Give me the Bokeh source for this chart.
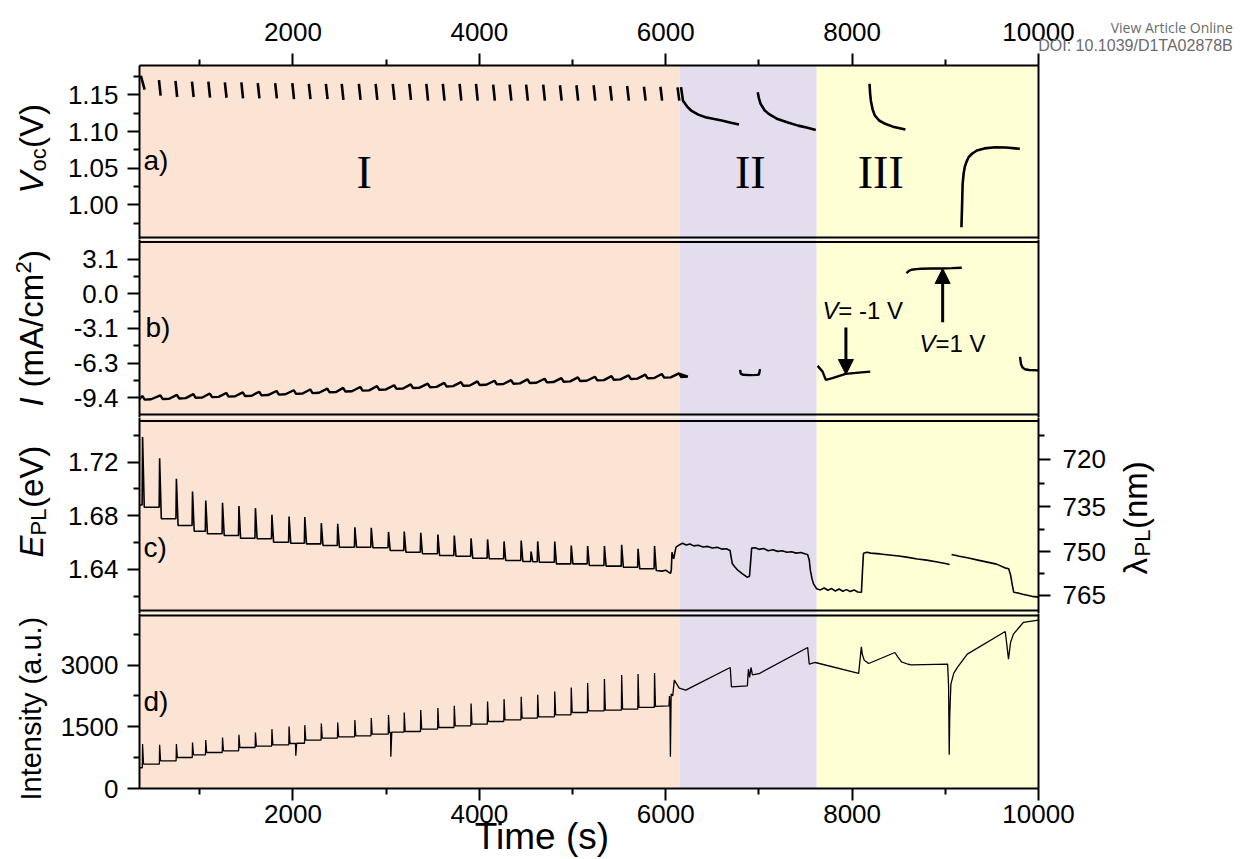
import math
from bokeh.plotting import figure
from bokeh.layouts import column
from bokeh.models import (Range1d, LinearAxis, FixedTicker, CustomJSTickFormatter,
                          BoxAnnotation, Span, Label, Arrow, NormalHead)
from bokeh.embed import file_html
from bokeh.resources import INLINE

NAN = float("nan")

# ---------------- data ----------------
X_START, X_END = 353, 10000
X_MAJOR = [2000, 4000, 6000, 8000, 10000]
X_MINOR = [1000, 3000, 5000, 7000, 9000]

REGION_EDGES = [353, 6150, 7620, 10000]
REGION_COLORS = ["#FCE4D4", "#E4DDEE", "#FFFFD6"]
REGION_NAMES = ["I", "II", "III"]
REGION_NAME_T = [2763, 6908, 8307]

# a) Voc
VOC_T = [368, 562, 739, 916, 1092, 1269, 1446, 1622, 1809, 1993, 2170, 2353, 2523, 2707, 2887,
         3071, 3248, 3431, 3608, 3788, 3964, 4148, 4325, 4502, 4685, 4865, 5042, 5226, 5403,
         5586, 5766, 5943, 6127]
VOC_TOP = [1.176, 1.170, 1.169, 1.168, 1.168, 1.167, 1.167, 1.166, 1.166, 1.166,
           1.165, 1.165, 1.165, 1.165, 1.165, 1.165, 1.165, 1.165, 1.165, 1.165, 1.165,
           1.164, 1.164, 1.164, 1.164, 1.163, 1.163, 1.163, 1.162, 1.162, 1.161, 1.161, 1.160]
VOC_BOT = [1.157, 1.149, 1.147, 1.147, 1.146, 1.146, 1.145, 1.145, 1.145, 1.144,
           1.144, 1.144, 1.143, 1.143, 1.143, 1.143, 1.143,
           1.142, 1.142, 1.142, 1.142, 1.142, 1.142, 1.142, 1.142, 1.142, 1.142, 1.142,
           1.142, 1.142, 1.142, 1.142, 1.142]
VOC2A_T = [6164, 6185, 6230, 6272, 6350, 6427, 6520, 6600, 6700, 6786]
VOC2A_V = [1.1604, 1.142, 1.134, 1.1286, 1.123, 1.1195, 1.117, 1.115, 1.112, 1.1095]
VOC2B_T = [6987, 7000, 7018, 7060, 7105, 7200, 7302, 7420, 7522, 7610]
VOC2B_V = [1.1535, 1.145, 1.1377, 1.129, 1.124, 1.117, 1.1127, 1.108, 1.105, 1.102]
VOC3A_T = [8187, 8193, 8201, 8220, 8243, 8290, 8354, 8450, 8572]
VOC3A_V = [1.165, 1.152, 1.142, 1.130, 1.122, 1.115, 1.1105, 1.106, 1.1027]
VOC3B_T = [9173, 9180, 9186, 9196, 9208, 9228, 9250, 9290, 9339, 9420, 9537, 9650, 9800]
VOC3B_V = [0.9696, 1.000, 1.0287, 1.042, 1.0514, 1.059, 1.065, 1.070, 1.0741, 1.077,
           1.0786, 1.0783, 1.0764]
VOC_TICKS = [1.00, 1.05, 1.10, 1.15]
VOC_MINOR = [0.975, 1.025, 1.075, 1.125, 1.175]

# b) current
CUR_BASE = [-9.57, -9.52, -9.47, -9.41, -9.35, -9.30, -9.25, -9.19, -9.12, -9.05,
            -8.98, -8.91, -8.84, -8.76, -8.68, -8.60, -8.52, -8.45, -8.38, -8.32,
            -8.25, -8.19, -8.13, -8.07, -8.01, -7.95, -7.89, -7.83, -7.77, -7.70,
            -7.64, -7.58, -7.52]
CUR2_T = [6798, 6805, 6830, 6900, 6980, 7000, 7008, 7011]
CUR2_V = [-6.90, -7.25, -7.35, -7.38, -7.36, -7.32, -7.00, -6.84]
CUR_NEG_T = [7630, 7683, 7718, 7789, 7930, 8071, 8194]
CUR_NEG_V = [-6.54, -7.06, -7.81, -7.66, -7.27, -7.15, -7.06]
CUR_POS_T = [8583, 8610, 8636, 8690, 8742, 8850, 8954, 9070, 9177]
CUR_POS_V = [1.87, 2.08, 2.18, 2.24, 2.27, 2.29, 2.30, 2.33, 2.36]
CUR_END_T = [9802, 9812, 9830, 9855, 9900, 10000]
CUR_END_V = [-5.73, -6.39, -6.70, -6.85, -6.92, -6.95]
CUR_TICKS = [3.14, 0.0, -3.14, -6.28, -9.42]
CUR_MINOR = [1.57, -1.57, -4.71, -7.85]

# c) PL peak energy
E_T = [386, 569, 749, 922, 1064, 1244, 1420, 1597, 1774, 1958, 2127, 2304, 2480, 2664, 2840,
       3025, 3194, 3371, 3555, 3731, 3911, 4088, 4265, 4449, 4555, 4626, 4809, 4986, 5162,
       5342, 5527, 5703, 5880]
E_PEAK = [1.7386, 1.7229, 1.7076, 1.6981, 1.6914, 1.6897, 1.6872, 1.6857, 1.6807, 1.6795,
          1.6790, 1.6745, 1.6740, 1.6715, 1.6711, 1.6680, 1.6683, 1.6673, 1.6661, 1.6653,
          1.6633, 1.6624, 1.6609, 1.6616, 1.6534, 1.6609, 1.6609, 1.6579, 1.6574, 1.6574,
          1.6584, 1.6554, 1.6574]
E_BASE = [1.6864, 1.6778, 1.6728, 1.6685, 1.6666, 1.6653, 1.6633, 1.6629, 1.6603, 1.6596,
          1.6591, 1.6579, 1.6566, 1.6566, 1.6562, 1.6542, 1.6529, 1.6517, 1.6504, 1.6499,
          1.6484, 1.6480, 1.6467, 1.6460, 1.6458, 1.6454, 1.6442, 1.6442, 1.6430, 1.6425,
          1.6417, 1.6405, 1.6393]
E_START_V = 1.688
E_TAIL_T = [5960, 6000, 6030, 6052, 6060, 6067, 6085, 6110]
E_TAIL_V = [1.6388, 1.6395, 1.6380, 1.6372, 1.6400, 1.6529, 1.6480, 1.6566]
E_R2_T = [6150, 6180, 6220, 6260, 6300, 6350, 6400, 6450, 6500, 6550,
          6600, 6650, 6690, 6700, 6715, 6740, 6776, 6820, 6873, 6899,
          6910, 6922, 6960, 7000, 7050, 7100, 7150, 7200, 7250, 7300,
          7350, 7400, 7450, 7500, 7522, 7540, 7552, 7570, 7586, 7620]
E_R2_V = [1.6585, 1.6595, 1.6582, 1.6590, 1.6576, 1.6580, 1.6568, 1.6572, 1.6560, 1.6565,
          1.6552, 1.6555, 1.6542, 1.6500, 1.6442, 1.6420, 1.6393, 1.6370, 1.6343, 1.6350,
          1.6450, 1.6559, 1.6562, 1.6550, 1.6556, 1.6540, 1.6547, 1.6535, 1.6540, 1.6528,
          1.6532, 1.6522, 1.6526, 1.6515, 1.6512, 1.6470, 1.6393, 1.6330, 1.6293, 1.6256]
E_R3_T = [7620, 7660, 7700, 7740, 7780, 7820, 7860, 7900, 7940, 7980,
          8020, 8060, 8100, 8112, 8122, 8160, 8200, 8300, 8400, 8500,
          8600, 8700, 8800, 8900, 9000, 9046, NAN, 9067, 9150, 9250,
          9350, 9450, 9550, 9650, 9680, 9700, 9720, 9734, 9780, 9830,
          9880, 9930, 10000]
E_R3_V = [1.6256, 1.6248, 1.6262, 1.6245, 1.6258, 1.6240, 1.6255, 1.6238, 1.6250, 1.6236,
          1.6248, 1.6232, 1.6231, 1.6400, 1.6521, 1.6528, 1.6522, 1.6516, 1.6508, 1.6500,
          1.6490, 1.6478, 1.6470, 1.6458, 1.6445, 1.6437, NAN, 1.6512, 1.6498, 1.6485,
          1.6470, 1.6455, 1.6440, 1.6410, 1.6405, 1.6360, 1.6280, 1.6231, 1.6225, 1.6215,
          1.6208, 1.6200, 1.6194]
E_TICKS = [1.64, 1.68, 1.72]
E_MINOR = [1.62, 1.66, 1.70, 1.74]
HC = 1239.84
LAMBDA_TICKS = [720, 735, 750, 765]
LAMBDA_MINOR = [712.5, 727.5, 742.5, 757.5]

# d) PL intensity
INT_T = [386, 569, 749, 922, 1064, 1244, 1420, 1597, 1774, 1958,
         2030, 2127, 2304, 2480, 2664, 2840, 3025, 3050, 3194, 3371,
         3555, 3731, 3911, 4088, 4265, 4449, 4626, 4809, 4986, 5162,
         5342, 5527, 5703, 5880]
INT_PEAK = [1079, 1062, 1079, 1118, 1176, 1240, 1305, 1361, 1443, 1507,
            795, 1540, 1580, 1605, 1662, 1711, 1784, 770, 1848, 1905,
            1954, 2010, 2067, 2115, 2172, 2229, 2278, 2359, 2456, 2562,
            2659, 2760, 2781, 2805]
INT_BASE = [593, 673, 754, 819, 875, 916, 997, 1030, 1062, 1094,
            1100, 1176, 1225, 1257, 1281, 1322, 1361, 1370, 1386, 1443,
            1483, 1524, 1565, 1629, 1670, 1711, 1743, 1792, 1848, 1889,
            1905, 1930, 1970, 1994]
INT_START_V = 505
INT_REST_T = [6035, 6040, 6045, 6050, 6058, 6075, 6092, 6145, 6215, 6692, 6705, 6876, 6887,
              6900, 6915, 6930, 7000, 7523, 7540, 7604, 8070, 8099, 8110, 8130, 8178, 8459,
              8490, 8530, 8600, 8636, 9025, 9035, 9042, 9048, 9060, 9090, 9130, 9236, 9643,
              9660, 9678, 9700, 9731, 9837, 10000]
INT_REST_V = [2010, 2250, 2050, 770, 2300, 2250, 2635, 2440, 2392, 2942, 2472, 2497, 2900,
              2700, 2942, 2764, 2790, 3428, 3024, 3063, 2796, 3445, 3250, 3120, 3039, 3306,
              3200, 3080, 3020, 3007, 3024, 2500, 819, 1800, 2538, 2800, 2942, 3267, 3817,
              3500, 3146, 3550, 3753, 4036, 4094]
INT_TICKS = [0, 1500, 3000]
INT_MINOR = [750, 2250, 3750]

# ---------------- geometry helpers (screen pixels -> data) ----------------
FONT = "Liberation Sans"
W = 1244
PX_L, PX_R = 139, 1046
PANELS = {  # frame top y, frame bottom y, value at bottom, value at top
    "a": (65, 239, 0.95286, 1.18992),
    "b": (239, 417, -11.226, 4.928),
    "c": (417, 613, 1.60722, 1.75322),
    "d": (613, 788, 0.0, 4254.0),
}


def tx(px):
    return X_START + (px - PX_L) * (X_END - X_START) / (PX_R - PX_L)


def yv(panel, py):
    top, bot, lo, hi = PANELS[panel]
    return lo + (bot - py) / (bot - top) * (hi - lo)


xr = Range1d(X_START, X_END)


def style_axis(ax):
    ax.axis_line_width = 2
    ax.axis_line_color = "black"
    ax.major_tick_line_width = 2
    ax.minor_tick_line_width = 2
    ax.major_tick_out = 12
    ax.major_tick_in = 0
    ax.minor_tick_out = 6
    ax.minor_tick_in = 0
    ax.major_label_text_font = FONT
    ax.major_label_text_font_size = "26px"
    ax.major_label_text_color = "black"


def make_fig(key, height, top_b, bot_b, x_loc):
    top, bot, lo, hi = PANELS[key]
    p = figure(width=W, height=height, x_range=xr, y_range=Range1d(lo, hi),
               output_backend="svg", toolbar_location=None, x_axis_location=x_loc,
               min_border_left=PX_L, min_border_right=W - PX_R,
               min_border_top=top_b, min_border_bottom=bot_b)
    p.outline_line_color = None
    p.xgrid.visible = False
    p.ygrid.visible = False
    p.background_fill_color = "white"
    p.border_fill_color = "white"
    for l, r, c in zip(REGION_EDGES[:-1], REGION_EDGES[1:], REGION_COLORS):
        p.add_layout(BoxAnnotation(left=l, right=r, fill_color=c, fill_alpha=1.0,
                                   line_alpha=0, level="underlay"))
    style_axis(p.yaxis[0])
    if x_loc is not None:
        ax = p.xaxis[0]
        style_axis(ax)
        ax.ticker = FixedTicker(ticks=X_MAJOR, minor_ticks=X_MINOR)
    return p


def right_line(p):
    ax = LinearAxis(ticker=FixedTicker(ticks=[]), major_label_text_font_size="0px",
                    major_tick_out=0, minor_tick_out=0, major_label_standoff=0)
    ax.axis_line_width = 2
    ax.major_tick_line_color = None
    ax.minor_tick_line_color = None
    p.add_layout(ax, "right")


def hspan(p, y):
    p.add_layout(Span(location=y, dimension="width", line_color="black", line_width=2))


def add_text(p, x, y, text, size, style="normal", font=FONT, align="left",
             baseline="middle", angle=0.0, color="black", side=None):
    lab = Label(x=x, y=y, text=text, text_font_size=size, text_font=font,
                text_font_style=style, text_align=align, text_baseline=baseline,
                angle=angle, text_color=color)
    if side is None:
        p.add_layout(lab)
    else:
        # placed in a side panel so that it is not clipped to the frame
        p.add_layout(lab, side)


def vlabel(p, key, pieces, start_py, center_px, main_size=33):
    # rotated label built from pieces laid along the vertical text direction
    # pieces: (text, size_px, style, baseline shift px (+ = down), advance px, side)
    y = start_py
    base = center_px + 0.35 * main_size
    for text, size, style, shift, adv, side in pieces:
        cx = base + shift - 0.35 * size
        add_text(p, tx(cx), yv(key, y), text, f"{size}px", style=style,
                 baseline="middle", angle=math.pi / 2, side=side)
        y -= adv


# ---------------- panel a ----------------
pa = make_fig("a", 239, 65, 0, "above")
pa.yaxis[0].ticker = FixedTicker(ticks=VOC_TICKS, minor_ticks=VOC_MINOR)
pa.yaxis[0].formatter = CustomJSTickFormatter(code="return tick.toFixed(2)")
pa.yaxis[0].major_label_standoff = 9
pa.xaxis[0].major_label_standoff = 13
right_line(pa)
hspan(pa, yv("a", 237))
stroke_x = [[t, t + (40 if i == 0 else 18)] for i, t in enumerate(VOC_T)]
stroke_y = [[a, b] for a, b in zip(VOC_TOP, VOC_BOT)]
pa.multi_line(stroke_x, stroke_y, line_color="black", line_width=2.6)
for xs, ys in [(VOC2A_T, VOC2A_V), (VOC2B_T, VOC2B_V), (VOC3A_T, VOC3A_V), (VOC3B_T, VOC3B_V)]:
    pa.line(xs, ys, line_color="black", line_width=2.6)
for name, t in zip(REGION_NAMES, REGION_NAME_T):
    add_text(pa, t, yv("a", 172), name, "46px", font="Liberation Serif", align="center")
add_text(pa, tx(143), yv("a", 160), "a)", "28px")
vlabel(pa, "a", [("V", 33, "italic", 0, 22, "left"), ("oc", 22, "normal", 3, 23.5, "left"),
                 ("(V)", 33, "normal", 0, 0, "right")], 193, 30)
add_text(pa, tx(1242), yv("a", 27), "View Article Online", "14px", font="Open Sans",
         align="right", color="#6b6b6b", side="right")
add_text(pa, tx(1242), yv("a", 45), "DOI: 10.1039/D1TA02878B", "16px", font=FONT,
         align="right", color="#6b6b6b", side="above")

# ---------------- panel b ----------------
pb = make_fig("b", 178, 0, 0, None)
pb.yaxis[0].ticker = FixedTicker(ticks=CUR_TICKS, minor_ticks=CUR_MINOR)
pb.yaxis[0].formatter = CustomJSTickFormatter(code="return tick.toFixed(1)")
pb.yaxis[0].major_label_standoff = 9
right_line(pb)
hspan(pb, yv("b", 241.5))
hspan(pb, yv("b", 414))
cx, cy = [X_START], [CUR_BASE[0]]
for t, b in zip(VOC_T, CUR_BASE):
    cx += [t + 15, t + 40, t + 110]
    cy += [b + 0.30, b - 0.03, b]
cx += [6150]
cy += [CUR_BASE[-1] + 0.25]
pb.line(cx, cy, line_color="black", line_width=2.4)
for xs, ys in [(CUR2_T, CUR2_V), (CUR_NEG_T, CUR_NEG_V), (CUR_POS_T, CUR_POS_V),
               (CUR_END_T, CUR_END_V)]:
    pb.line(xs, ys, line_color="black", line_width=2.4)
pb.add_layout(Arrow(end=NormalHead(size=15, fill_color="black", line_color="black"),
                    x_start=tx(851.7), y_start=yv("b", 327), x_end=tx(851.7),
                    y_end=yv("b", 374), line_width=3, line_color="black"))
pb.add_layout(Arrow(end=NormalHead(size=15, fill_color="black", line_color="black"),
                    x_start=tx(949.3), y_start=yv("b", 321.7), x_end=tx(949.3),
                    y_end=yv("b", 268), line_width=3, line_color="black"))
add_text(pb, tx(828), yv("b", 310), "V", "24px", style="italic")
add_text(pb, tx(844), yv("b", 310), "= -1 V", "24px")
add_text(pb, tx(926), yv("b", 342.7), "V", "24px", style="italic")
add_text(pb, tx(942), yv("b", 342.7), "=1 V", "24px")
add_text(pb, tx(145), yv("b", 326.7), "b)", "28px")
vlabel(pb, "b", [("I", 33, "italic", 0, 19, "left"), ("(mA/cm", 33, "normal", 0, 114, "right"),
                 ("2", 22, "normal", -12, 12.5, "left"), (")", 33, "normal", 0, 0, "right")],
       406, 30)

# ---------------- panel c ----------------
pc = make_fig("c", 196, 0, 0, None)
pc.yaxis[0].ticker = FixedTicker(ticks=E_TICKS, minor_ticks=E_MINOR)
pc.yaxis[0].formatter = CustomJSTickFormatter(code="return tick.toFixed(2)")
pc.yaxis[0].major_label_standoff = 9
rax = LinearAxis(ticker=FixedTicker(ticks=[HC / l for l in LAMBDA_TICKS],
                                    minor_ticks=[HC / l for l in LAMBDA_MINOR]),
                 formatter=CustomJSTickFormatter(code="return (1239.84 / tick).toFixed(0)"))
style_axis(rax)
rax.major_label_standoff = 12
pc.add_layout(rax, "right")
hspan(pc, yv("c", 420.5))
hspan(pc, yv("c", 610))
ex, ey = [X_START], [E_START_V]
prev = E_START_V
for t, pk, b in zip(E_T, E_PEAK, E_BASE):
    ex += [t - 5, t, t + 18]
    ey += [prev, pk, b]
    prev = b
ex += E_TAIL_T + E_R2_T + E_R3_T
ey += E_TAIL_V + E_R2_V + E_R3_V
pc.line(ex, ey, line_color="black", line_width=1.6)
add_text(pc, tx(143), yv("c", 546.7), "c)", "28px")
vlabel(pc, "c", [("E", 33, "italic", 0, 22, "left"), ("PL", 22, "normal", 3, 27.5, "left"),
                 ("(eV)", 33, "normal", 0, 0, "right")], 557, 30)
vlabel(pc, "c", [("λ", 33, "normal", 0, 18, "right"), ("PL", 22, "normal", 3, 27.5, "right"),
                 ("(nm)", 33, "normal", 0, 0, "right")], 574, 1144)

# ---------------- panel d ----------------
pd_ = make_fig("d", 245, 0, 70, "below")
pd_.yaxis[0].ticker = FixedTicker(ticks=INT_TICKS, minor_ticks=INT_MINOR)
pd_.yaxis[0].major_label_standoff = 9
pd_.xaxis[0].major_label_standoff = 4
right_line(pd_)
hspan(pd_, yv("d", 615))
ix, iy = [X_START], [INT_START_V]
prev = INT_START_V
for t, pk, b in zip(INT_T, INT_PEAK, INT_BASE):
    ix += [t - 3, t, t + 10]
    iy += [prev, pk, b]
    prev = b
ix += INT_REST_T
iy += INT_REST_V
pd_.line(ix, iy, line_color="black", line_width=1.3)
add_text(pd_, tx(143), yv("d", 701), "d)", "28px")
vlabel(pd_, "d", [("Intensity (a.u.)", 29, "normal", 0, 0, "left")], 800, 30, main_size=29)
add_text(pd_, tx(545), yv("d", 836), "Time (s)", "37px", align="center", side="right")

layout = column(pa, pb, pc, pd_, spacing=0)
open("out.html", "w").write(file_html(layout, INLINE))
